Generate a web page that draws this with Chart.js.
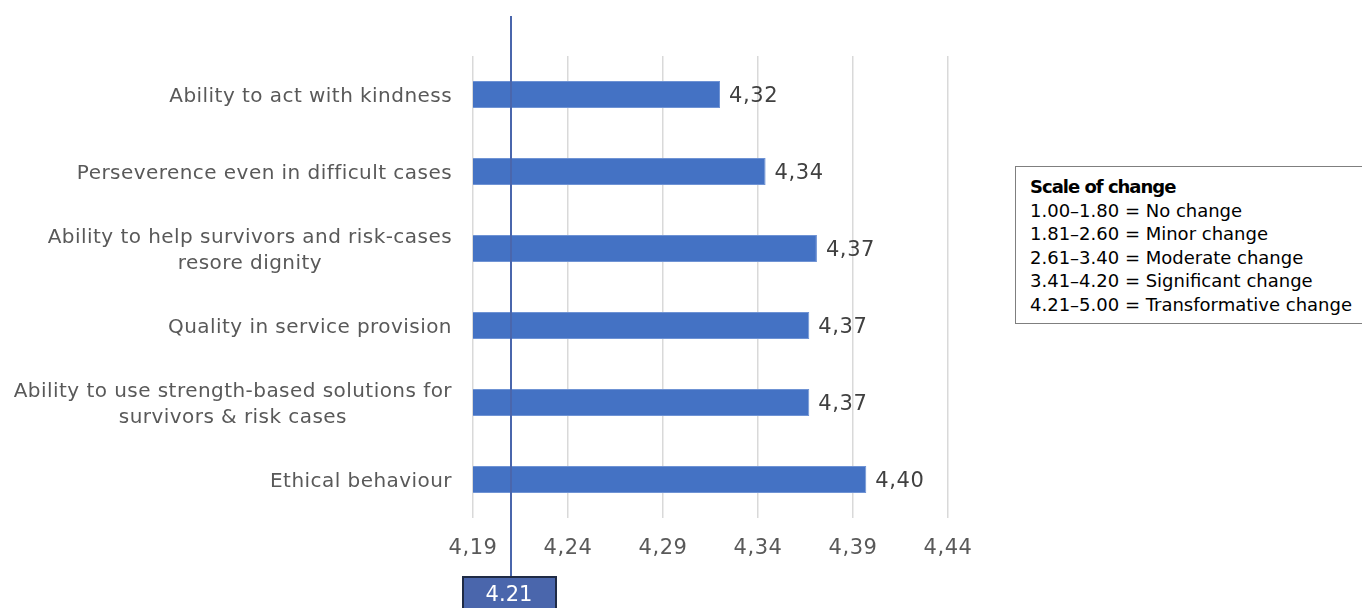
<!DOCTYPE html>
<html>
<head>
<meta charset="utf-8">
<script src="https://cdn.jsdelivr.net/npm/chart.js@4/dist/chart.umd.min.js"></script>
<style>
  html, body { margin: 0; padding: 0; background: #fff; }
  #wrap { position: relative; width: 1362px; height: 608px; }
  #escala {
    position: absolute; left: 1015px; top: 166px; width: 360px; height: 158px;
    border: 1px solid #7f7f7f; box-sizing: border-box; background: #fff;
    font-family: "DejaVu Sans", sans-serif; font-size: 18px; line-height: 23.6px; color: #000;
    padding: 8px 0 0 14px; white-space: nowrap;
  }
  #escala b { font-weight: 700; letter-spacing: -1px; }
</style>
</head>
<body>
<div id="wrap">
  <canvas id="grafico" width="1362" height="608"></canvas>
  <div id="escala"></div>
</div>
<script>
const categorias = [
  'Ability to act with kindness',
  'Perseverence even in difficult cases',
  ['Ability to help survivors and risk-cases', 'resore dignity'],
  'Quality in service provision',
  ['Ability to use strength-based solutions for', 'survivors & risk cases'],
  'Ethical behaviour'
];
const valores = [4.32, 4.344, 4.371, 4.367, 4.367, 4.397];
const marcasX = [4.19, 4.24, 4.29, 4.34, 4.39, 4.44];
const umbral = 4.21;
const umbralTexto = '4.21';
const escalaTitulo = 'Scale of change';
const escalaLineas = [
  '1.00–1.80 = No change',
  '1.81–2.60 = Minor change',
  '2.61–3.40 = Moderate change',
  '3.41–4.20 = Significant change',
  '4.21–5.00 = Transformative change'
];

const fuente = '"DejaVu Sans", sans-serif';
const coma = v => v.toFixed(2).replace('.', ',');

document.getElementById('escala').innerHTML =
  '<b>' + escalaTitulo + '</b><br>' + escalaLineas.join('<br>');

// nombres de categoria: bloque alineado a la derecha, lineas centradas entre si
const nombresCategorias = {
  id: 'nombresCategorias',
  afterDraw(chart) {
    const ctx = chart.ctx;
    const ys = chart.scales.y;
    const derecha = chart.chartArea.left - 21;
    const alto = 26;
    ctx.save();
    ctx.font = '20px ' + fuente;
    ctx.letterSpacing = '0.45px';
    ctx.fillStyle = '#595959';
    ctx.textAlign = 'center';
    ctx.textBaseline = 'middle';
    categorias.forEach((cat, i) => {
      const lineas = Array.isArray(cat) ? cat : [cat];
      const ancho = Math.max(...lineas.map(l => ctx.measureText(l).width));
      const cx = derecha - ancho / 2;
      const y0 = ys.getPixelForValue(i) - (lineas.length - 1) * alto / 2;
      lineas.forEach((l, k) => ctx.fillText(l, cx, y0 + k * alto + 2));
    });
    ctx.restore();
  }
};

// etiquetas del eje x y al final de cada barra
const etiquetasBarras = {
  id: 'etiquetasBarras',
  afterDatasetsDraw(chart) {
    const ctx = chart.ctx;
    const meta = chart.getDatasetMeta(0);
    const xs = chart.scales.x;
    ctx.save();
    ctx.font = '21px ' + fuente;
    ctx.letterSpacing = '0.6px';
    ctx.textBaseline = 'middle';
    ctx.fillStyle = '#404040';
    ctx.textAlign = 'left';
    meta.data.forEach((bar, i) => {
      ctx.fillText(coma(valores[i]), bar.x + 9, bar.y + 2);
    });
    ctx.fillStyle = '#595959';
    ctx.textAlign = 'center';
    marcasX.forEach(v => {
      ctx.fillText(coma(v), xs.getPixelForValue(v), 549);
    });
    ctx.restore();
  }
};

// linea del umbral 4.21 con su recuadro
const lineaUmbral = {
  id: 'lineaUmbral',
  afterDraw(chart) {
    const ctx = chart.ctx;
    const x = chart.scales.x.getPixelForValue(umbral);
    ctx.save();
    ctx.strokeStyle = '#4a66ac';
    ctx.lineWidth = 2;
    ctx.beginPath();
    ctx.moveTo(x, 16);
    ctx.lineTo(x, 577);
    ctx.stroke();
    ctx.fillStyle = '#4a66ac';
    ctx.fillRect(x - 48, 577, 93, 34);
    ctx.strokeStyle = '#1f2b45';
    ctx.lineWidth = 2;
    ctx.strokeRect(x - 48, 577, 93, 34);
    ctx.fillStyle = '#ffffff';
    ctx.font = '21px ' + fuente;
    ctx.textAlign = 'center';
    ctx.textBaseline = 'middle';
    ctx.fillText(umbralTexto, x - 2, 596);
    ctx.restore();
  }
};

new Chart(document.getElementById('grafico').getContext('2d'), {
  type: 'bar',
  data: {
    labels: categorias,
    datasets: [{
      data: valores,
      backgroundColor: '#4472c4',
      borderColor: '#6f93d4',
      borderWidth: 1,
      barPercentage: 0.7,
      categoryPercentage: 0.5
    }]
  },
  options: {
    indexAxis: 'y',
    responsive: false,
    animation: false,
    layout: { padding: { top: 56, right: 414, left: 0, bottom: 0 } },
    plugins: { legend: { display: false }, tooltip: { enabled: false } },
    scales: {
      x: {
        min: 4.19,
        max: 4.44,
        afterBuildTicks: s => { s.ticks = marcasX.map(v => ({ value: v })); },
        afterFit: s => { s.height = 90; },
        grid: { color: '#d9d9d9', lineWidth: 1.5, drawTicks: false },
        border: { display: false },
        ticks: { display: false }
      },
      y: {
        afterFit: s => { s.width = 473; },
        grid: { display: false, drawTicks: false },
        border: { display: false },
        ticks: { display: false }
      }
    }
  },
  plugins: [nombresCategorias, etiquetasBarras, lineaUmbral]
});
</script>
</body>
</html>
